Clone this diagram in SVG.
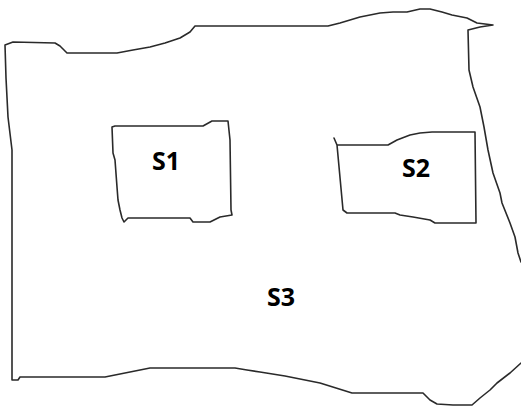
<svg xmlns="http://www.w3.org/2000/svg" width="521" height="407" viewBox="0 0 521 407">
<style>
.line{fill:none;stroke:#2a2a2a;stroke-width:1.6;stroke-linejoin:round;stroke-linecap:round}
.lbl{font-family:"Open Sans","Liberation Sans",sans-serif;font-weight:bold;font-size:25px;fill:#000}
</style>
<rect width="521" height="407" fill="#fff"/>
<g id="S3">
<path class="line" d="M521,363 L510,373 L497,383 L490,390 L480,398 L472,405 L453,405 L437,404 L430,400 L423,393 L415,393 L352,393 L320,383 L285,376 L260,372 L247,370 L235,368 L150,368 L135,371 L115,375 L105,377 L20,377 L18,380 L12,380 L12,150 L8,117 L6,78 L5,45 L13,42 L55,43 L60,46 L67,53 L117,53 L133,50 L150,47 L165,43 L180,38 L190,32 L195,26 L328,26 L340,23 L360,17 L380,13 L393,12 L407,12 L420,9 L430,9 L442,12 L452,15 L467,18 L477,23 L493,25 L480,27 L468,30 L469,70 L473,87 L480,107 L484,127 L488,150 L493,173 L500,193 L502,203 L510,223 L515,237 L518,253 L521,262"/>
<text class="lbl" x="267" y="306">S3</text>
</g>
<g id="S1">
<path class="line" d="M112,127 L115,126 L203,126 L212,121 L228,121 L230,140 L231,210 L232,215 L220,217 L210,222 L193,222 L190,218 L128,218 L124,222 L122,218 L120,210 L118,200 L117,187 L115,160 L113,153 Z"/>
<text class="lbl" x="152" y="170">S1</text>
</g>
<g id="S2">
<path class="line" d="M334,138 L337,145 L343,210 L347,213 L395,213 L400,215 L413,217 L430,220 L435,223 L476,223 L475,132 L432,132 L420,133 L410,135 L397,140 L388,145 L337,145"/>
<text class="lbl" x="402" y="177">S2</text>
</g>
<g id="connectors"></g>
</svg>
